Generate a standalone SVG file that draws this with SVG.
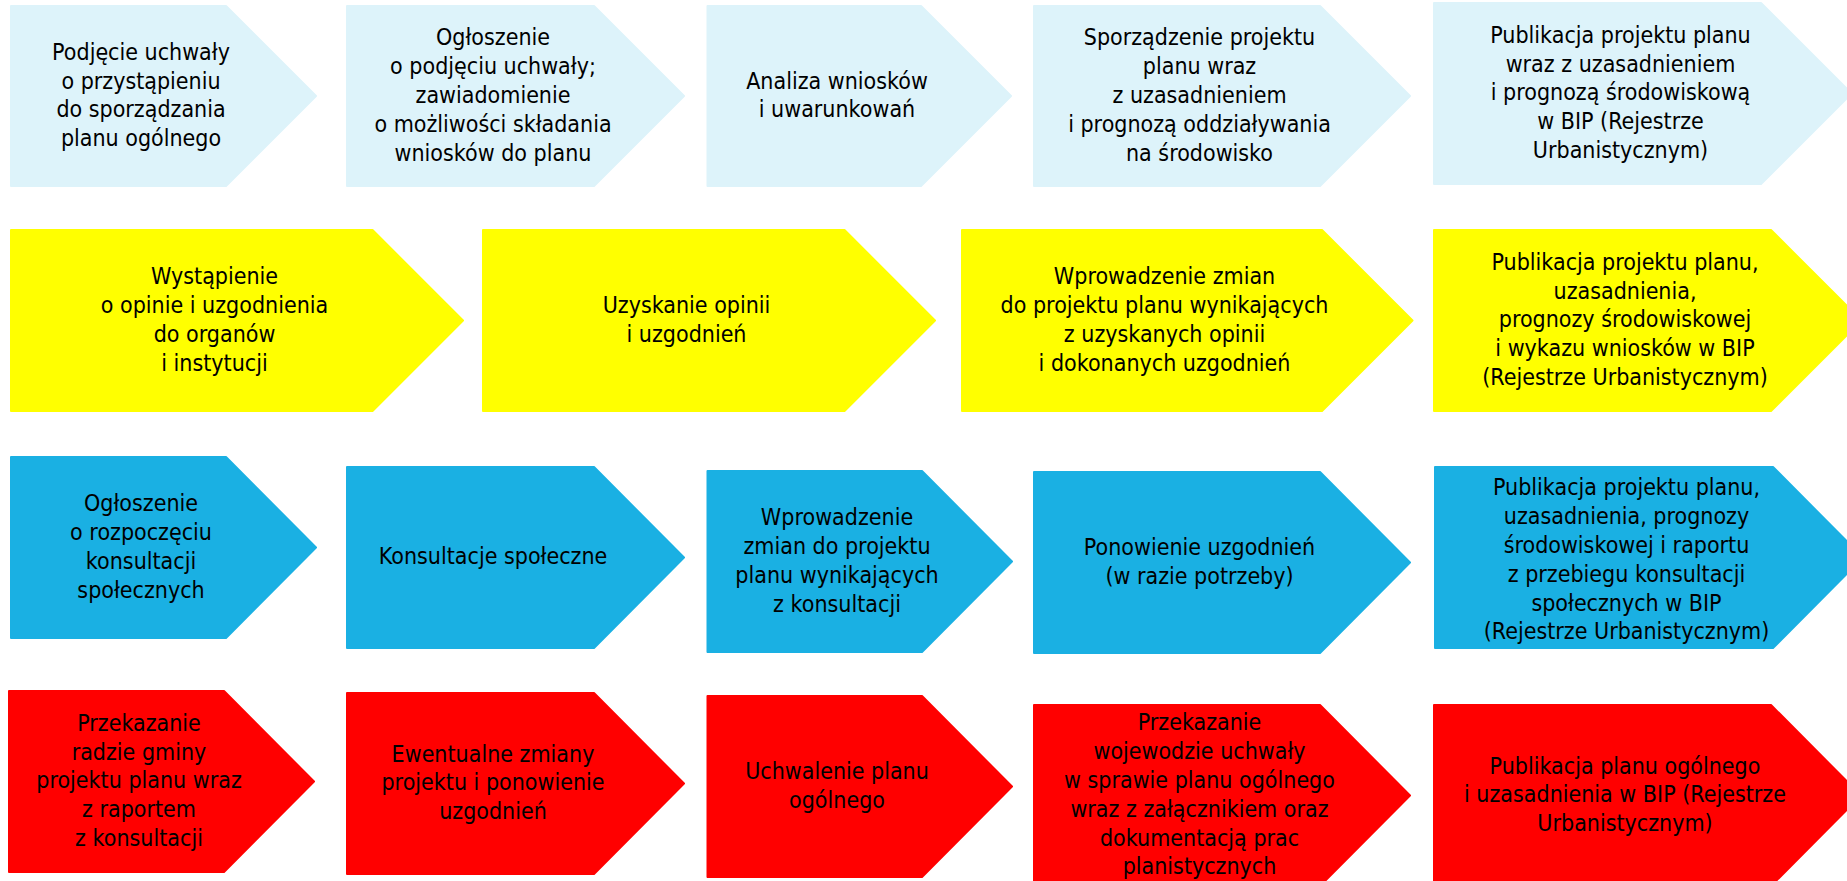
<svg xmlns="http://www.w3.org/2000/svg" width="1847" height="881" viewBox="0 0 1847 881">
<style>
.r1{fill:#DDF3FA}
.r2{fill:#FFFF00}
.r3{fill:#1AB0E3}
.r4{fill:#FF0000}
.s{stroke-width:2;stroke-linejoin:round}
.r1.s{stroke:#DDF3FA}.r2.s{stroke:#FFFF00}.r3.s{stroke:#1AB0E3}.r4.s{stroke:#FF0000}
text{font-family:"DejaVu Sans","Liberation Sans",sans-serif;font-size:23px;fill:#000;text-anchor:middle}
</style>
<rect width="1847" height="881" fill="#FFFFFF"/>
<g id="connectors"></g>

<g id="n1-1"><path class="r1 s" d="M11,6 H226 L316,96 L226,186 H11 Z"/>
<text transform="translate(141,0) scale(0.9,1)"><tspan x="0" y="59.8">Podjęcie uchwały</tspan><tspan x="0" y="88.6">o przystąpieniu</tspan><tspan x="0" y="117.4">do sporządzania</tspan><tspan x="0" y="146.2">planu ogólnego</tspan></text></g>
<g id="n1-2"><path class="r1 s" d="M347,6 H594 L684,96 L594,186 H347 Z"/>
<text transform="translate(493,0) scale(0.9,1)"><tspan x="0" y="45.4">Ogłoszenie</tspan><tspan x="0" y="74.2">o podjęciu uchwały;</tspan><tspan x="0" y="103">zawiadomienie</tspan><tspan x="0" y="131.8">o możliwości składania</tspan><tspan x="0" y="160.6">wniosków do planu</tspan></text></g>
<g id="n1-3"><path class="r1 s" d="M707.5,6 H921 L1011,96 L921,186 H707.5 Z"/>
<text transform="translate(837,0) scale(0.9,1)"><tspan x="0" y="88.6">Analiza wniosków</tspan><tspan x="0" y="117.4">i uwarunkowań</tspan></text></g>
<g id="n1-4"><path class="r1 s" d="M1034,6 H1320 L1410,96 L1320,186 H1034 Z"/>
<text transform="translate(1199.5,0) scale(0.9,1)"><tspan x="0" y="45.4">Sporządzenie projektu</tspan><tspan x="0" y="74.2">planu wraz</tspan><tspan x="0" y="103">z uzasadnieniem</tspan><tspan x="0" y="131.8">i prognozą oddziaływania</tspan><tspan x="0" y="160.6">na środowisko</tspan></text></g>
<g id="n1-5"><path class="r1 s" d="M1434,3 H1761 L1851.5,93.5 L1761,184 H1434 Z"/>
<text transform="translate(1620.5,0) scale(0.9,1)"><tspan x="0" y="42.9">Publikacja projektu planu</tspan><tspan x="0" y="71.7">wraz z uzasadnieniem</tspan><tspan x="0" y="100.5">i prognozą środowiskową</tspan><tspan x="0" y="129.3">w BIP (Rejestrze</tspan><tspan x="0" y="158.1">Urbanistycznym)</tspan></text></g>

<g id="n2-1"><path class="r2 s" d="M11,230 H372.5 L463,320.5 L372.5,411 H11 Z"/>
<text transform="translate(214.5,0) scale(0.9,1)"><tspan x="0" y="284.3">Wystąpienie</tspan><tspan x="0" y="313.1">o opinie i uzgodnienia</tspan><tspan x="0" y="341.9">do organów</tspan><tspan x="0" y="370.7">i instytucji</tspan></text></g>
<g id="n2-2"><path class="r2 s" d="M483,230 H844.5 L935,320.5 L844.5,411 H483 Z"/>
<text transform="translate(686.5,0) scale(0.9,1)"><tspan x="0" y="313.1">Uzyskanie opinii</tspan><tspan x="0" y="341.9">i uzgodnień</tspan></text></g>
<g id="n2-3"><path class="r2 s" d="M962,230 H1322 L1412.5,320.5 L1322,411 H962 Z"/>
<text transform="translate(1164.5,0) scale(0.9,1)"><tspan x="0" y="284.3">Wprowadzenie zmian</tspan><tspan x="0" y="313.1">do projektu planu wynikających</tspan><tspan x="0" y="341.9">z uzyskanych opinii</tspan><tspan x="0" y="370.7">i dokonanych uzgodnień</tspan></text></g>
<g id="n2-4"><path class="r2 s" d="M1434,230 H1771 L1861.5,320.5 L1771,411 H1434 Z"/>
<text transform="translate(1625,0) scale(0.9,1)"><tspan x="0" y="269.9">Publikacja projektu planu,</tspan><tspan x="0" y="298.7">uzasadnienia,</tspan><tspan x="0" y="327.5">prognozy środowiskowej</tspan><tspan x="0" y="356.3">i wykazu wniosków w BIP</tspan><tspan x="0" y="385.1">(Rejestrze Urbanistycznym)</tspan></text></g>

<g id="n3-1"><path class="r3 s" d="M11,457 H226 L316,547.5 L226,638 H11 Z"/>
<text transform="translate(141,0) scale(0.9,1)"><tspan x="0" y="511.3">Ogłoszenie</tspan><tspan x="0" y="540.1">o rozpoczęciu</tspan><tspan x="0" y="568.9">konsultacji</tspan><tspan x="0" y="597.7">społecznych</tspan></text></g>
<g id="n3-2"><path class="r3 s" d="M347,467 H594 L684,557.5 L594,648 H347 Z"/>
<text transform="translate(493,0) scale(0.9,1)"><tspan x="0" y="564.5">Konsultacje społeczne</tspan></text></g>
<g id="n3-3"><path class="r3 s" d="M707.5,471 H922 L1012,561.5 L922,652 H707.5 Z"/>
<text transform="translate(837,0) scale(0.9,1)"><tspan x="0" y="525.3">Wprowadzenie</tspan><tspan x="0" y="554.1">zmian do projektu</tspan><tspan x="0" y="582.9">planu wynikających</tspan><tspan x="0" y="611.7">z konsultacji</tspan></text></g>
<g id="n3-4"><path class="r3 s" d="M1034,472 H1320 L1410,562.5 L1320,653 H1034 Z"/>
<text transform="translate(1199.5,0) scale(0.9,1)"><tspan x="0" y="555.1">Ponowienie uzgodnień</tspan><tspan x="0" y="583.9">(w razie potrzeby)</tspan></text></g>
<g id="n3-5"><path class="r3 s" d="M1435,467 H1773 L1863,557.5 L1773,648 H1435 Z"/>
<text transform="translate(1626.5,0) scale(0.9,1)"><tspan x="0" y="495.5">Publikacja projektu planu,</tspan><tspan x="0" y="524.3">uzasadnienia, prognozy</tspan><tspan x="0" y="553.1">środowiskowej i raportu</tspan><tspan x="0" y="581.9">z przebiegu konsultacji</tspan><tspan x="0" y="610.7">społecznych w BIP</tspan><tspan x="0" y="639.5">(Rejestrze Urbanistycznym)</tspan></text></g>

<g id="n4-1"><path class="r4 s" d="M9,691 H224 L314,781.5 L224,872 H9 Z"/>
<text transform="translate(139,0) scale(0.9,1)"><tspan x="0" y="730.9">Przekazanie</tspan><tspan x="0" y="759.7">radzie gminy</tspan><tspan x="0" y="788.5">projektu planu wraz</tspan><tspan x="0" y="817.3">z raportem</tspan><tspan x="0" y="846.1">z konsultacji</tspan></text></g>
<g id="n4-2"><path class="r4 s" d="M347,693 H594 L684,783.5 L594,874 H347 Z"/>
<text transform="translate(493,0) scale(0.9,1)"><tspan x="0" y="761.7">Ewentualne zmiany</tspan><tspan x="0" y="790.5">projektu i ponowienie</tspan><tspan x="0" y="819.3">uzgodnień</tspan></text></g>
<g id="n4-3"><path class="r4 s" d="M707.5,696 H922 L1012,786.5 L922,877 H707.5 Z"/>
<text transform="translate(837,0) scale(0.9,1)"><tspan x="0" y="779.1">Uchwalenie planu</tspan><tspan x="0" y="807.9">ogólnego</tspan></text></g>
<g id="n4-4"><path class="r4 s" d="M1034,705 H1320 L1410,795.5 L1320,886 H1034 Z"/>
<text transform="translate(1199.5,0) scale(0.9,1)"><tspan x="0" y="730.5">Przekazanie</tspan><tspan x="0" y="759.3">wojewodzie uchwały</tspan><tspan x="0" y="788.1">w sprawie planu ogólnego</tspan><tspan x="0" y="816.9">wraz z załącznikiem oraz</tspan><tspan x="0" y="845.7">dokumentacją prac</tspan><tspan x="0" y="874.5">planistycznych</tspan></text></g>
<g id="n4-5"><path class="r4 s" d="M1434,705 H1771 L1861,795.5 L1771,886 H1434 Z"/>
<text transform="translate(1625,0) scale(0.9,1)"><tspan x="0" y="773.7">Publikacja planu ogólnego</tspan><tspan x="0" y="802.5">i uzasadnienia w BIP (Rejestrze</tspan><tspan x="0" y="831.3">Urbanistycznym)</tspan></text></g>
</svg>
